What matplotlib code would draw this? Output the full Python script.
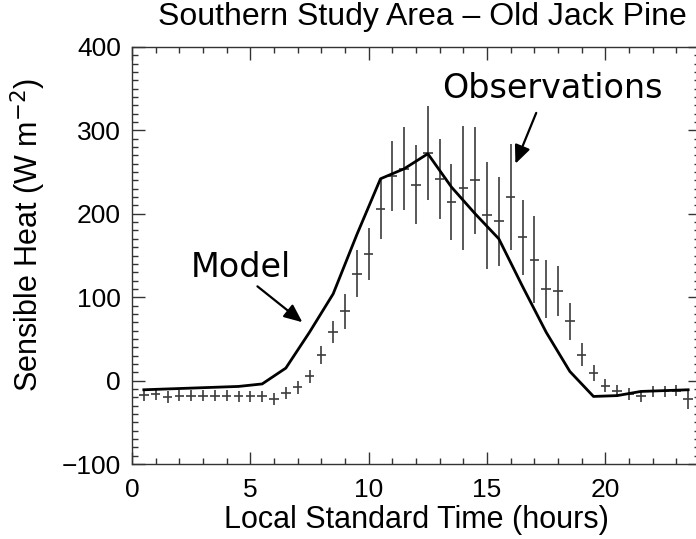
import matplotlib
matplotlib.use("Agg")
import matplotlib.pyplot as plt
from matplotlib.ticker import MultipleLocator

# Half-hourly observed sensible heat flux (W m-2) with spread
obs_hours = [0.5, 1.0, 1.5, 2.0, 2.5, 3.0, 3.5, 4.0, 4.5, 5.0, 5.5, 6.0,
             6.5, 7.0, 7.5, 8.0, 8.5, 9.0, 9.5, 10.0, 10.5, 11.0, 11.5, 12.0,
             12.5, 13.0, 13.5, 14.0, 14.5, 15.0, 15.5, 16.0, 16.5, 17.0, 17.5, 18.0,
             18.5, 19.0, 19.5, 20.0, 20.5, 21.0, 21.5, 22.0, 22.5, 23.0, 23.5]
obs_flux = [-17, -16, -20, -18, -18, -18, -18, -18, -19, -19, -19, -22,
            -15, -8, 5, 31, 58, 83, 128, 152, 206, 245, 254, 235,
            273, 242, 214, 231, 240, 198, 191, 220, 172, 145, 110, 107,
            71, 31, 9, -6, -12, -16, -19, -13, -13, -12, -22]
obs_spread = [7, 7, 7, 7, 7, 7, 7, 7, 7, 7, 7, 7,
              7, 8, 8, 11, 13, 21, 28, 31, 36, 42, 50, 47,
              56, 48, 46, 74, 64, 64, 53, 64, 45, 52, 35, 30,
              22, 14, 10, 8, 7, 7, 7, 7, 7, 7, 12]

# Hourly model output
model_hours = [0.5, 1.5, 2.5, 3.5, 4.5, 5.5, 6.5, 7.5, 8.5, 9.5, 10.5, 11.5,
               12.5, 13.5, 14.5, 15.5, 16.5, 17.5, 18.5, 19.5, 20.5, 21.5, 22.5, 23.5]
model_flux = [-11, -10, -9, -8, -7, -4, 15, 58, 104, 175, 242, 254,
              272, 232, 200, 170, 113, 58, 11, -19, -18, -13, -12, -11]

x_ticks = [0, 5, 10, 15, 20]
y_ticks = [-100, 0, 100, 200, 300, 400]

plt.rcParams['font.family'] = ['Liberation Sans', 'DejaVu Sans']

fig = plt.figure(figsize=(6.96, 5.39), dpi=100)
ax = fig.add_axes([132 / 696, 75 / 539, (700 - 132) / 696, (464 - 47) / 539])

ax.errorbar(obs_hours, obs_flux, xerr=0.2, yerr=obs_spread, fmt='none',
            ecolor='#3c3c3c', elinewidth=1.2, capsize=0, zorder=2)
ax.plot(model_hours, model_flux, color='black', lw=2.0, zorder=3)

ax.set_xlim(0, 24)
ax.set_ylim(-100, 400)
ax.set_xticks(x_ticks)
ax.set_yticks(y_ticks)
ax.xaxis.set_minor_locator(MultipleLocator(1))
ax.yaxis.set_minor_locator(MultipleLocator(10))
ax.tick_params(which='both', direction='in', top=True, right=True,
               labelsize=19, color='#333333', width=1.0)
ax.tick_params(which='major', length=9)
ax.tick_params(axis='x', which='major', pad=10)
ax.tick_params(axis='y', which='major', pad=8)
ax.tick_params(which='minor', length=4.5)
for s in ax.spines.values():
    s.set_color('#333333')
    s.set_linewidth(1.0)

ax.set_xlabel('Local Standard Time (hours)', fontsize=22, labelpad=2)
ax.set_ylabel('Sensible Heat (W m$^{-2}$)', fontsize=22)
ax.yaxis.set_label_coords(-(132 - 48) / 568, 0.55)
fig.text(422 / 696, 1 - 17 / 539, 'Southern Study Area \u2013 Old Jack Pine',
         ha='center', va='center', fontsize=23)

arrow_style = dict(arrowstyle='-|>,head_length=0.55,head_width=0.24',
                   color='black', lw=1.6, mutation_scale=20,
                   shrinkA=0, shrinkB=0)
ax.text(4.6, 136, 'Model', ha='center', va='center', fontsize=24,
        family='DejaVu Sans')
ax.annotate('', xy=(7.2, 70), xytext=(5.3, 113), arrowprops=arrow_style)
ax.text(17.75, 350, 'Observations', ha='center', va='center', fontsize=24,
        family='DejaVu Sans')
ax.annotate('', xy=(16.2, 260), xytext=(17.08, 321), arrowprops=arrow_style)

fig.savefig('out.png', dpi=100)
